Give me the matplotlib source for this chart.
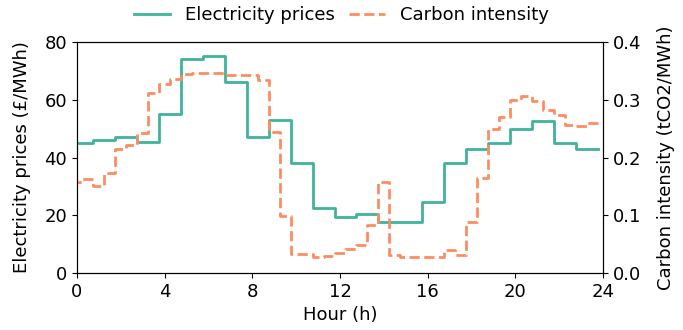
import numpy as np
import matplotlib
matplotlib.use("Agg")
import matplotlib.pyplot as plt

# Hourly electricity prices (£/MWh), hours 0..23
prices = [45, 46, 47, 45.5, 55, 74, 75, 66, 47, 53, 38, 22.5,
          19.5, 20.6, 17.5, 17.5, 24.5, 38.2, 42.9, 44.9, 50, 52.7, 44.9, 43]

# Half-hourly carbon intensity (tCO2/MWh), 00:00..23:30
carbon = [0.158, 0.163, 0.151, 0.173, 0.214, 0.222, 0.242, 0.311,
          0.328, 0.336, 0.345, 0.347, 0.347, 0.347, 0.343, 0.343,
          0.343, 0.335, 0.245, 0.099, 0.033, 0.033, 0.027, 0.030,
          0.034, 0.041, 0.048, 0.083, 0.158, 0.031, 0.028, 0.028,
          0.028, 0.028, 0.040, 0.031, 0.089, 0.164, 0.249, 0.271,
          0.300, 0.307, 0.298, 0.283, 0.274, 0.257, 0.255, 0.259]

x_ticks = [0, 4, 8, 12, 16, 20, 24]

# Step edges: each period is centred a quarter hour after its timestamp
price_edges = np.arange(len(prices) + 1) * 1.0 - 0.25
carbon_edges = np.arange(len(carbon) + 1) * 0.5 - 0.25

plt.rcParams["font.family"] = ["DejaVu Sans"]
plt.rcParams["font.size"] = 13

teal = "#3fb39b"
orange = "#fc8d62"

fig, ax = plt.subplots(figsize=(6.83, 3.3), dpi=100)
fig.subplots_adjust(left=0.1127, right=0.8829, bottom=0.1727, top=0.8727)

l1, = ax.step(price_edges, list(prices) + [prices[-1]], where="post",
              color=teal, lw=2, label="Electricity prices")
ax.set_xlim(0, 24)
ax.set_ylim(0, 80)
ax.set_xticks(x_ticks)
ax.set_yticks([0, 20, 40, 60, 80])
ax.set_xlabel("Hour (h)")
ax.set_ylabel("Electricity prices (£/MWh)", labelpad=10)

ax2 = ax.twinx()
l2, = ax2.step(carbon_edges, list(carbon) + [carbon[-1]], where="post",
               color=orange, lw=2, ls="--", label="Carbon intensity")
ax2.set_ylim(0, 0.4)
ax2.set_yticks([0.0, 0.1, 0.2, 0.3, 0.4])
ax2.set_ylabel("Carbon intensity (tCO2/MWh)", labelpad=11)

fig.legend(handles=[l1, l2], loc="upper center", ncol=2, frameon=False,
           bbox_to_anchor=(0.5, 1.03), handlelength=2.0, columnspacing=0.8,
           handletextpad=0.8)

fig.savefig("out.png", dpi=100)
